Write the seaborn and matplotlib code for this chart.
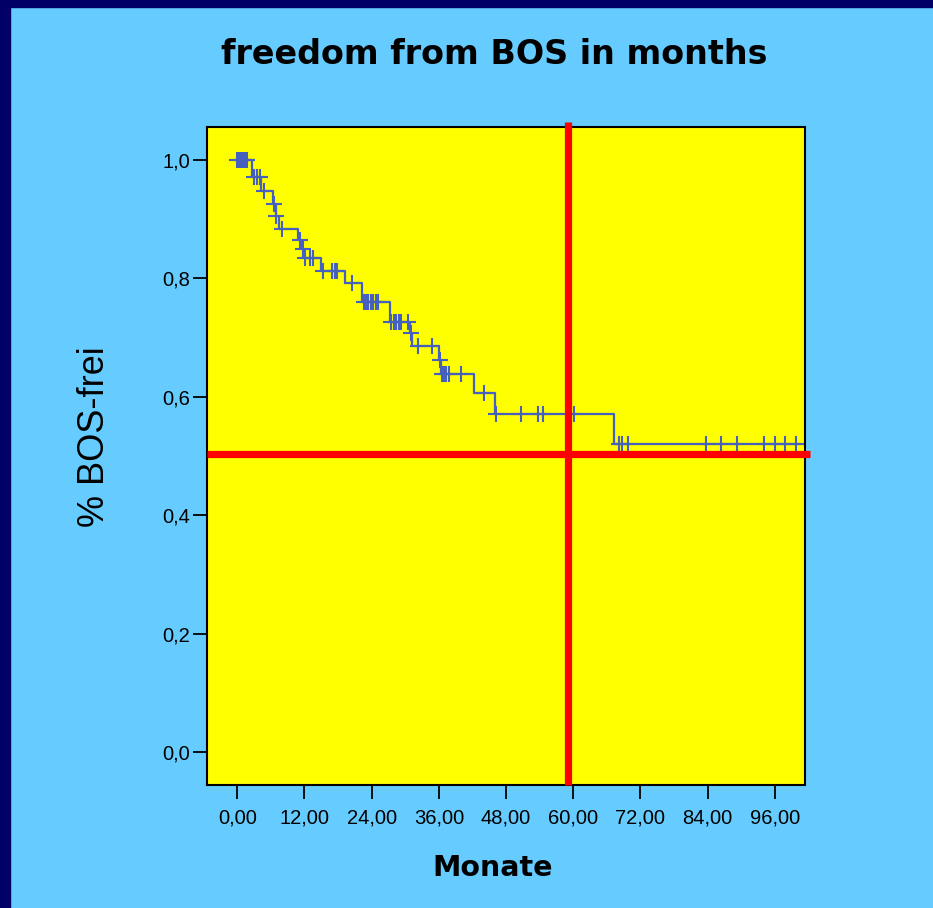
import numpy as np
import pandas as pd
import matplotlib
matplotlib.use("Agg")
import matplotlib.pyplot as plt
import matplotlib.patches as mpatches
import seaborn as sns

# Kaplan-Meier steps (months, survival after step)
step_times = [0, 2.6, 4.3, 6.3, 6.9, 7.5, 10.9, 11.5, 12.0, 15.0, 19.2, 22.3,
              27.2, 30.8, 31.2, 36.0, 36.4, 42.2, 46.0, 67.3, 100.6]
step_surv = [1.0, 0.971, 0.948, 0.926, 0.905, 0.883, 0.865, 0.850, 0.835, 0.812,
             0.793, 0.761, 0.726, 0.708, 0.686, 0.663, 0.638, 0.606, 0.571, 0.521, 0.521]

# censored observations (months)
censor_times = [0.0, 0.3, 0.6, 0.9, 1.2, 1.5, 1.8, 3.0, 3.5, 4.0, 4.7, 6.6, 7.0, 8.0,
                11.2, 11.8, 12.1, 13.0, 13.6, 15.4, 16.9, 17.5, 17.8, 20.5,
                22.6, 23.0, 23.4, 23.8, 24.3, 24.7, 25.2, 27.5, 28.0, 28.4, 28.9,
                29.3, 30.5, 31.0, 32.3, 34.7, 36.2, 36.6, 36.9, 37.2, 37.9, 40.0,
                44.0, 46.2, 50.7, 53.7, 54.6, 60.2, 68.1, 68.7, 69.7, 83.8, 86.4,
                89.3, 94.0, 96.0, 97.8, 99.8]

ref_month = 59.0
ref_surv = 0.504

x_ticks = [0, 12, 24, 36, 48, 60, 72, 84, 96]
x_labels = ["0,00", "12,00", "24,00", "36,00", "48,00", "60,00", "72,00", "84,00", "96,00"]
y_ticks = [0.0, 0.2, 0.4, 0.6, 0.8, 1.0]
y_labels = ["0,0", "0,2", "0,4", "0,6", "0,8", "1,0"]

steps = pd.DataFrame({"t": step_times, "s": step_surv})
idx = np.searchsorted(step_times, censor_times, side="right") - 1
censors = pd.DataFrame({"t": censor_times, "s": np.array(step_surv)[idx]})

sns.set_theme(style="white")
plt.rcParams["font.family"] = ["Liberation Sans", "DejaVu Sans"]

fig = plt.figure(figsize=(9.33, 9.08), dpi=100, facecolor="#66CCFF")
# navy frame on top and left
fig.patches.append(mpatches.Rectangle((0, 1 - 7 / 908), 1, 7 / 908, transform=fig.transFigure,
                                      color="#000066", zorder=0))
fig.patches.append(mpatches.Rectangle((0, 0), 10 / 933, 1, transform=fig.transFigure,
                                      color="#000066", zorder=0))

ax = fig.add_axes([206.7 / 933, 1 - 785 / 908, (805 - 206.7) / 933, (785 - 127) / 908])
ax.set_facecolor("#FFFF00")

line_col = "#4660BE"
sns.lineplot(data=steps, x="t", y="s", ax=ax, drawstyle="steps-post", color=line_col,
             linewidth=1.6, estimator=None, sort=False, zorder=3)
sns.scatterplot(data=censors, x="t", y="s", ax=ax, marker="+", color=line_col,
                s=120, linewidth=1.5, zorder=3)

xmin, xmax = -5.46, 101.4
ymin, ymax = -0.056, 1.056
ax.set_xlim(xmin, xmax)
ax.set_ylim(ymin, ymax)

ax.plot([ref_month, ref_month], [ymin, 1.065], color="#FF0000", lw=5.2,
        clip_on=False, zorder=4, solid_capstyle="butt")
ax.plot([xmin, 102.3], [ref_surv, ref_surv], color="#FF0000", lw=5.2,
        clip_on=False, zorder=4, solid_capstyle="butt")

for sp in ax.spines.values():
    sp.set_color("black")
    sp.set_linewidth(1.5)

ax.set_xticks(x_ticks)
ax.set_xticklabels(x_labels)
ax.set_yticks(y_ticks)
ax.set_yticklabels(y_labels)
ax.tick_params(axis="both", direction="out", length=10, width=1.3, color="black",
               labelsize=14.5, labelcolor="black", bottom=True, left=True)
ax.tick_params(axis="x", pad=7)
ax.tick_params(axis="y", pad=2)
ax.set_xlabel("")
ax.set_ylabel("")

fig.text(494 / 933, 1 - 55 / 908, "freedom from BOS in months", ha="center", va="center",
         fontsize=24, fontweight="bold", family="DejaVu Sans", color="black")
fig.text(493 / 933, 1 - 868 / 908, "Monate", ha="center", va="center",
         fontsize=20.5, fontweight="bold", family="DejaVu Sans", color="black")
fig.text(95 / 933, 1 - 437 / 908, "% BOS-frei", ha="center", va="center",
         rotation=90, fontsize=26, color="black")

fig.savefig("out.png", dpi=100, facecolor=fig.get_facecolor())
